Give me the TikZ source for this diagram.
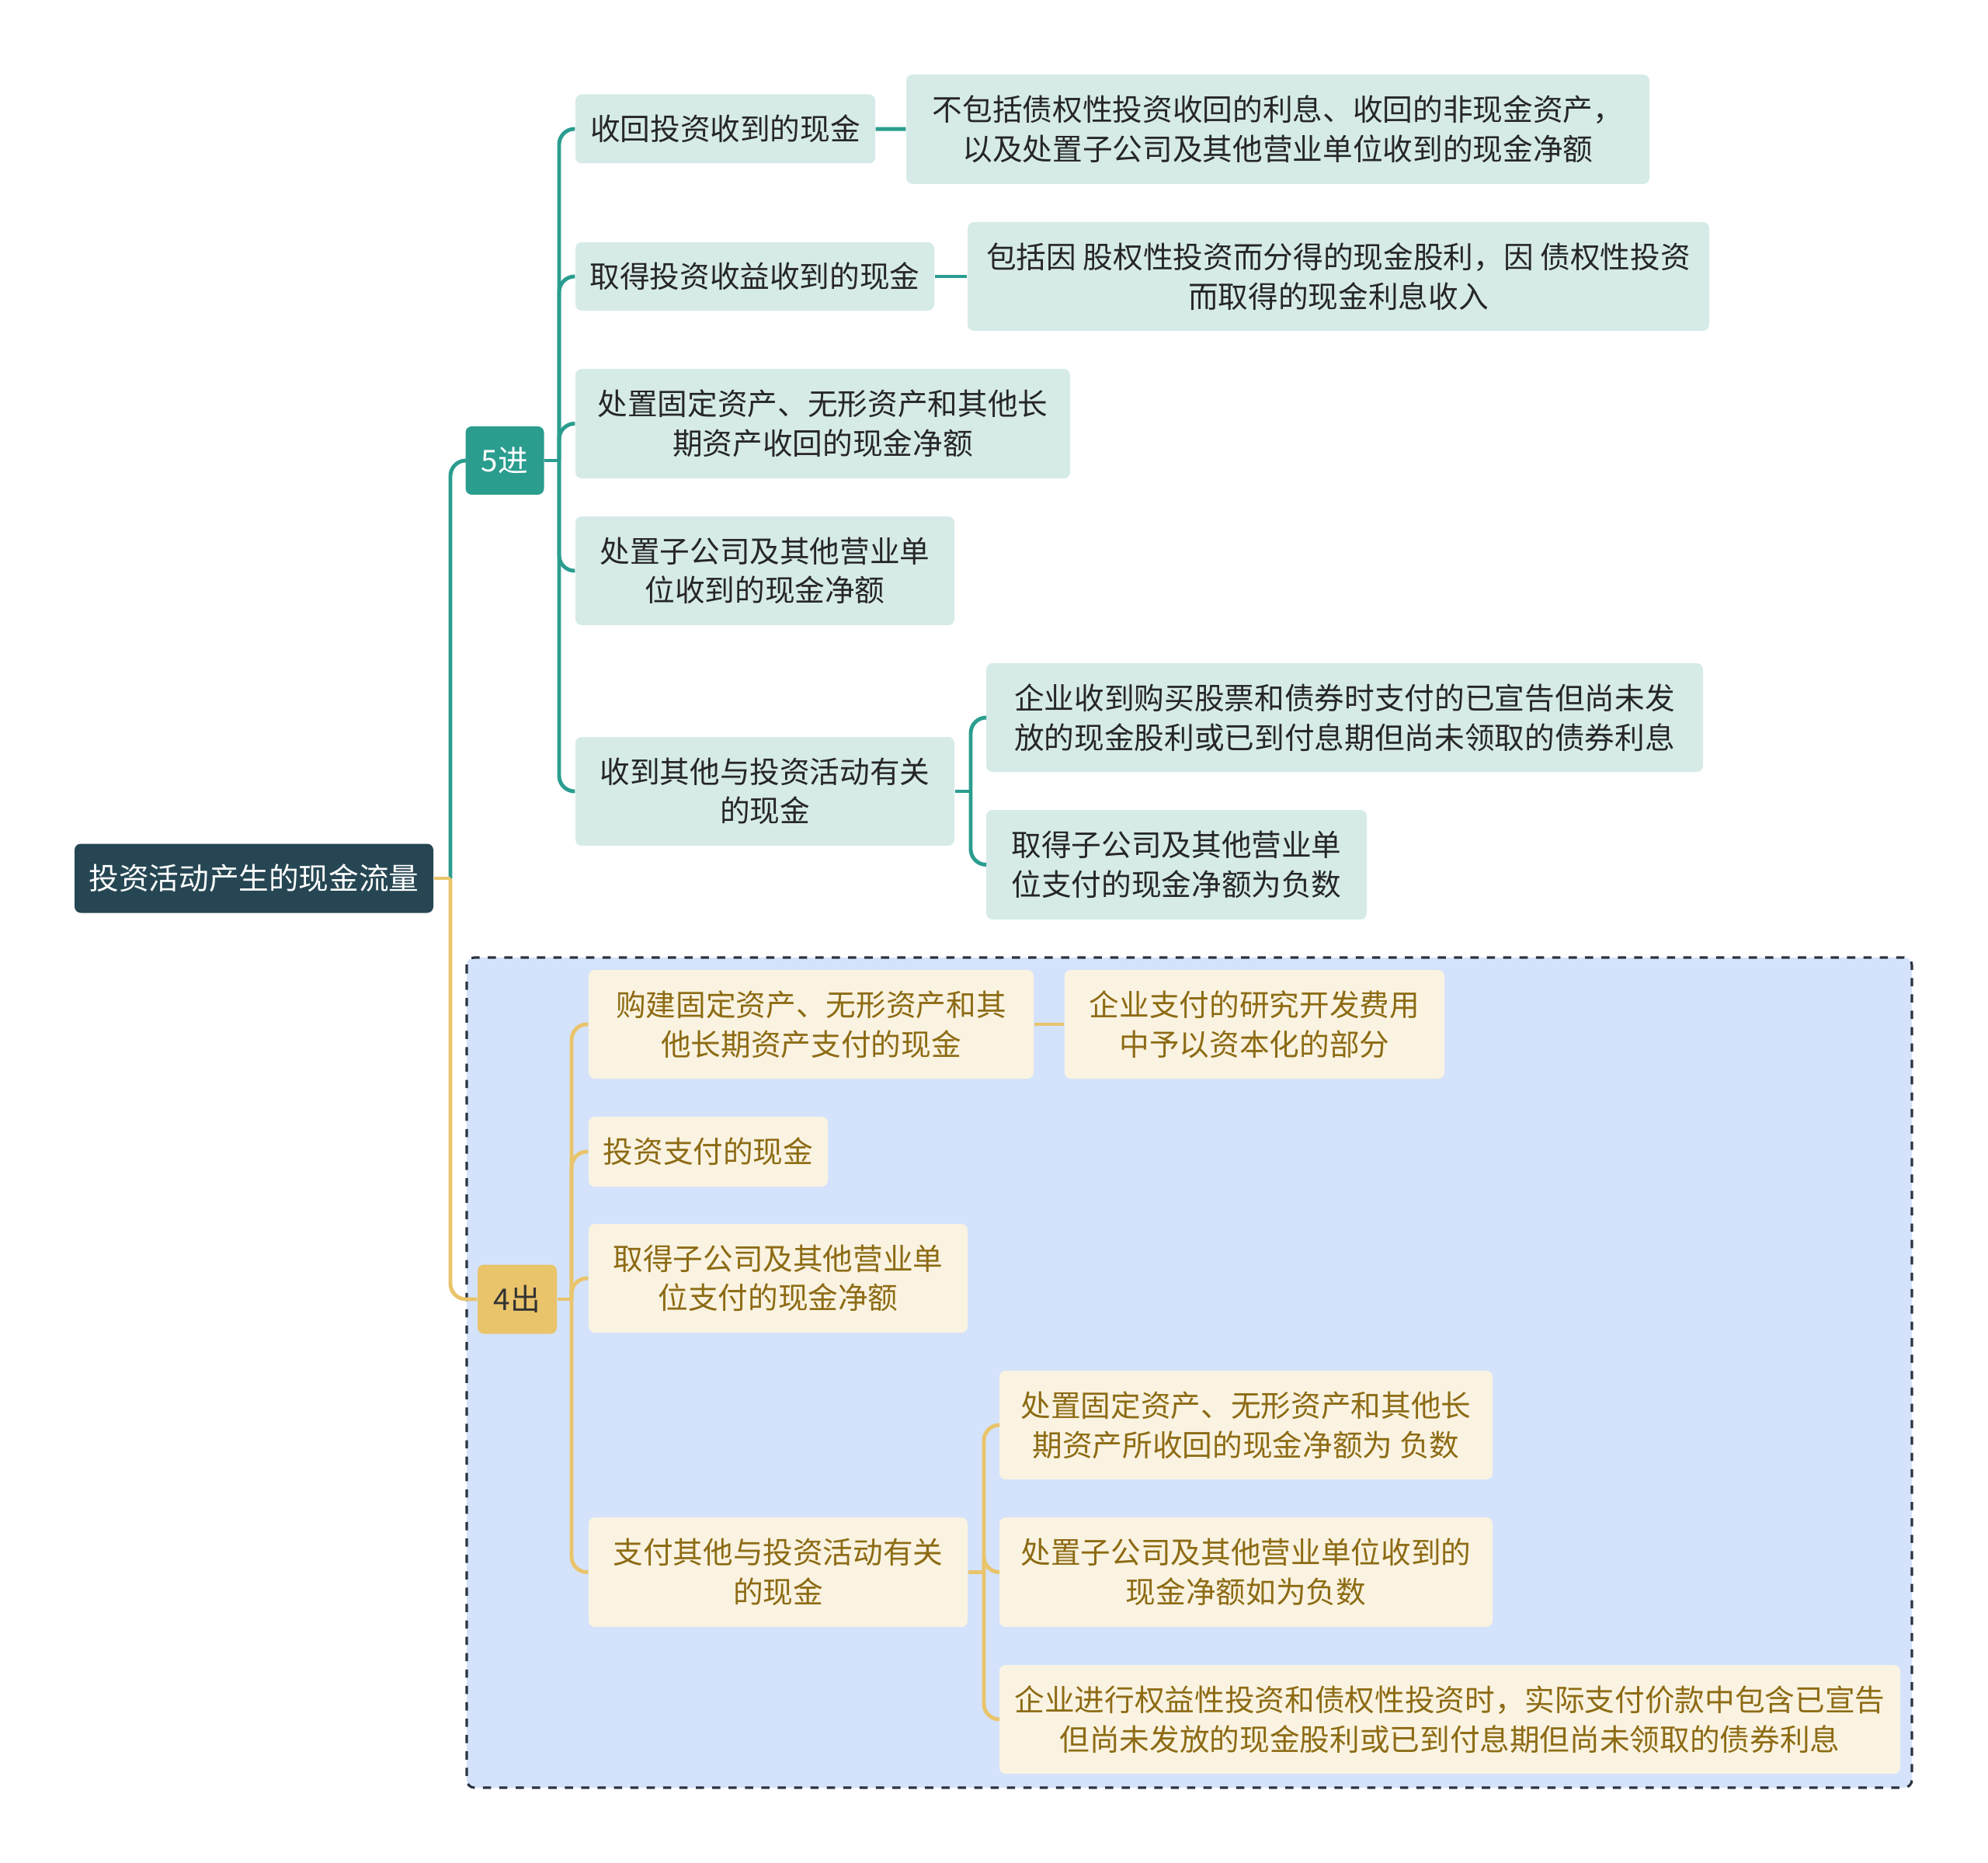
\documentclass[tikz,border=0pt]{standalone}
\usepackage{fontspec}
\setmainfont{Noto Sans CJK SC}
\usepackage{xcolor}
\usetikzlibrary{positioning}

\definecolor{rootfill}{HTML}{264653}
\definecolor{tealline}{HTML}{2A9D8F}
\definecolor{tealfill}{HTML}{D6EBE8}
\definecolor{goldline}{HTML}{E9C46A}
\definecolor{goldfill}{HTML}{FAF3E1}
\definecolor{goldtext}{HTML}{8D6B14}
\definecolor{boxfill}{HTML}{D4E3FB}
\definecolor{boxdraw}{HTML}{2B3340}

\begin{document}
\begin{tikzpicture}[
  every node/.style={font=\fontsize{11pt}{14.4pt}\selectfont,inner sep=0pt,align=center},
  rootbox/.style={fill=rootfill,text=white,rounded corners=0.08cm,minimum width=4.62cm,minimum height=0.89cm},
  inbox/.style={fill=tealline,text=white,rounded corners=0.08cm,minimum width=1.01cm,minimum height=0.88cm},
  outbox/.style={fill=goldline,text=black!80,rounded corners=0.08cm,minimum width=1.02cm,minimum height=0.89cm},
  inleaf/.style={fill=tealfill,text=black!85,rounded corners=0.08cm,minimum height=1.40cm},
  outleaf/.style={fill=goldfill,text=goldtext,rounded corners=0.08cm,minimum height=1.40cm},
  tline/.style={draw=tealline,line width=1.4pt,rounded corners=0.2cm},
  yline/.style={draw=goldline,line width=1.4pt,rounded corners=0.2cm}]
\useasboundingbox (0,0) rectangle (25.6,-23.99);
% dashed frame behind the out branch
\draw[fill=boxfill,draw=boxdraw,dashed,line width=0.9pt,rounded corners=0.1cm] (6.01,-12.33) rectangle (24.62,-23.02);

\node[rootbox] (root) at (3.27,-11.31) {投资活动产生的现金流量};
\node[inbox] (in5) at (6.50,-5.93) {5进};
\node[outbox] (out4) at (6.66,-16.73) {4出};

% in branch
\node[inleaf,minimum width=3.86cm,minimum height=0.89cm] (c1) at (9.34,-1.66) {收回投资收到的现金};
\node[inleaf,minimum width=9.57cm,minimum height=1.41cm] (d1) at (16.455,-1.665) {不包括债权性投资收回的利息、收回的非现金资产，\\以及处置子公司及其他营业单位收到的现金净额};
\node[inleaf,minimum width=4.62cm,minimum height=0.88cm] (c2) at (9.72,-3.56) {取得投资收益收到的现金};
\node[inleaf,minimum width=9.55cm] (d2) at (17.235,-3.56) {包括因 股权性投资而分得的现金股利，因 债权性投资\\而取得的现金利息收入};
\node[inleaf,minimum width=6.37cm,minimum height=1.41cm] (c3) at (10.595,-5.455) {处置固定资产、无形资产和其他长\\期资产收回的现金净额};
\node[inleaf,minimum width=4.88cm] (c4) at (9.85,-7.35) {处置子公司及其他营业单\\位收到的现金净额};
\node[inleaf,minimum width=4.88cm] (c5) at (9.85,-10.19) {收到其他与投资活动有关\\的现金};
\node[inleaf,minimum width=9.23cm] (d5a) at (17.315,-9.24) {企业收到购买股票和债券时支付的已宣告但尚未发\\放的现金股利或已到付息期但尚未领取的债券利息};
\node[inleaf,minimum width=4.90cm,minimum height=1.41cm] (d5b) at (15.15,-11.135) {取得子公司及其他营业单\\位支付的现金净额为负数};

% out branch
\node[outleaf,minimum width=5.73cm] (e1) at (10.445,-13.19) {购建固定资产、无形资产和其\\他长期资产支付的现金};
\node[outleaf,minimum width=4.89cm] (f1) at (16.155,-13.19) {企业支付的研究开发费用\\中予以资本化的部分};
\node[outleaf,minimum width=3.08cm,minimum height=0.90cm] (e2) at (9.12,-14.83) {投资支付的现金};
\node[outleaf,minimum width=4.88cm] (e3) at (10.02,-16.46) {取得子公司及其他营业单\\位支付的现金净额};
\node[outleaf,minimum width=4.88cm,minimum height=1.41cm] (e4) at (10.02,-20.245) {支付其他与投资活动有关\\的现金};
\node[outleaf,minimum width=6.35cm] (f4a) at (16.045,-18.35) {处置固定资产、无形资产和其他长\\期资产所收回的现金净额为 负数};
\node[outleaf,minimum width=6.35cm,minimum height=1.41cm] (f4b) at (16.045,-20.245) {处置子公司及其他营业单位收到的\\现金净额如为负数};
\node[outleaf,minimum width=11.60cm] (f4c) at (18.67,-22.14) {企业进行权益性投资和债权性投资时，实际支付价款中包含已宣告\\但尚未发放的现金股利或已到付息期但尚未领取的债券利息};

% junctions
\coordinate (rj) at (5.80,-11.31);
\coordinate (j5) at (7.20,-5.93);
\coordinate (j5c) at (12.50,-10.19);
\coordinate (j4) at (7.36,-16.73);
\coordinate (j4e) at (12.67,-20.245);

\draw[tline] (rj) |- (in5.west);
\draw[yline] (rj) |- (out4.west);
\draw[yline] (root.east) -- (rj);

\draw[tline] (in5.east) -- (j5);
\foreach \n in {c1,c2,c3,c4,c5}
  \draw[tline] (j5) |- (\n.west);
\draw[tline] (c1) -- (d1);
\draw[tline] (c2) -- (d2);
\draw[tline] (c5.east) -- (j5c);
\draw[tline] (j5c) |- (d5a.west);
\draw[tline] (j5c) |- (d5b.west);

\draw[yline] (out4.east) -- (j4);
\foreach \n in {e1,e2,e3,e4}
  \draw[yline] (j4) |- (\n.west);
\draw[yline] (e1) -- (f1);
\draw[yline] (e4.east) -- (j4e);
\foreach \n in {f4a,f4b,f4c}
  \draw[yline] (j4e) |- (\n.west);
\end{tikzpicture}
\end{document}
